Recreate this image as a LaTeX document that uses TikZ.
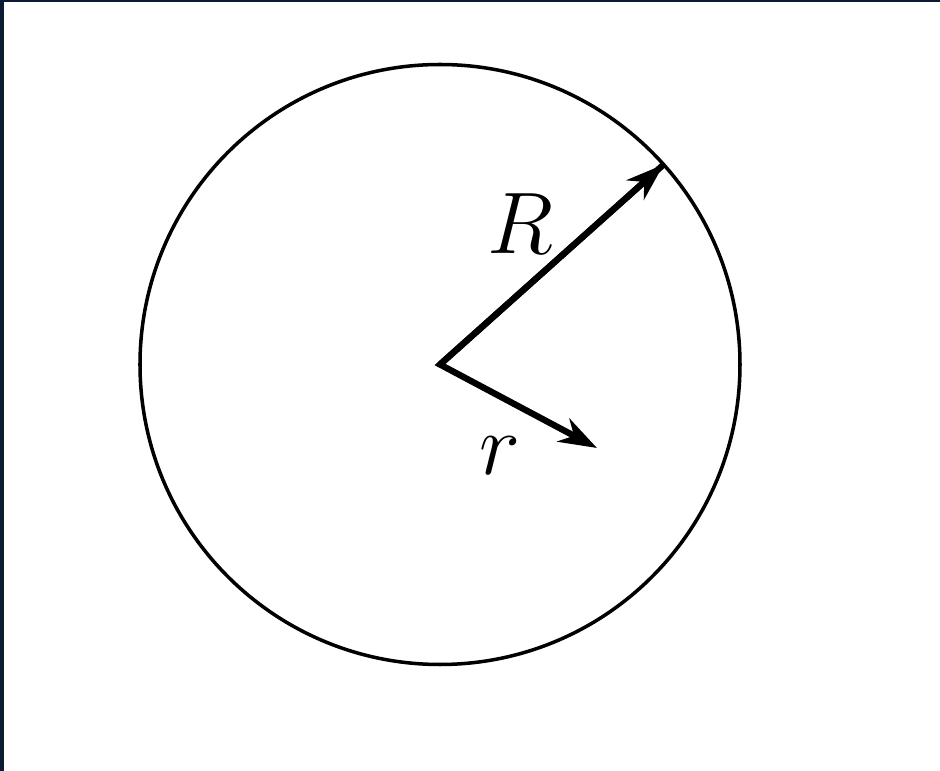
\documentclass[tikz,border=0pt]{standalone}
\usepackage{amsmath}
\usetikzlibrary{calc, positioning}
\usetikzlibrary{arrows.meta}
\definecolor{frame}{HTML}{0A1B33}

\begin{document}
\begin{tikzpicture}[
  radius arrow/.style={line width=1.8pt,-{Stealth[length=3.8mm,width=2.6mm,inset=1.2mm]}},
  label text/.style={font=\fontsize{25}{30}\selectfont}
]
\def\rad{3.0}

% frame and page
\fill[frame] (0,0) rectangle (9.4,-7.71);
\fill[white] (0.04,-0.025) rectangle (9.4,-7.71);
\useasboundingbox (0,0) rectangle (9.4,-7.71);

\coordinate (O) at (4.40,-3.645);
\draw[line width=1pt] (O) circle (\rad);

\coordinate (Rtip) at ($(O)+(41.8:\rad)$);
\coordinate (rtip) at (5.97,-4.48);

\draw[radius arrow,line join=miter] (Rtip) -- (O) -- (rtip);
\draw[radius arrow] (O) -- (Rtip);

\node[label text] (Rlab) at (5.20,-2.24) {$R$};
\node[label text] (rlab) at (5.00,-4.56) {$r$};
\end{tikzpicture}
\end{document}
